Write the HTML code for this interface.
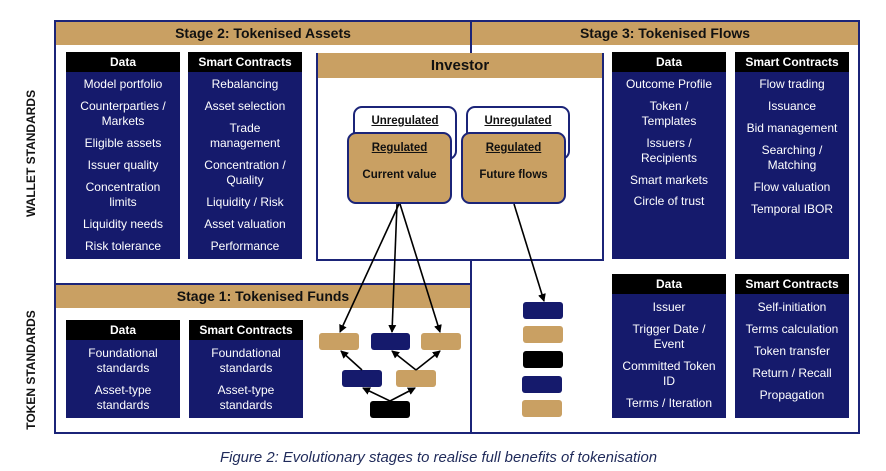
<!DOCTYPE html>
<html><head><meta charset="utf-8"><style>
*{margin:0;padding:0;box-sizing:border-box}
body{width:886px;height:471px;background:#fff;position:relative;overflow:hidden;font-family:"Liberation Sans",sans-serif}
.a{position:absolute}
.nv{background:#151a6c}
.tan{background:#c9a063}
.hd{background:#000;color:#fff;font-weight:bold;font-size:12px;text-align:center;line-height:20px}
.t{position:absolute;left:0;width:100%;text-align:center;color:#fff;font-size:12px;line-height:15px}
.stg{font-weight:bold;font-size:14px;color:#111;text-align:center;line-height:23px}
.line{position:absolute;background:#1b2478}
.rot{position:absolute;font-weight:bold;font-size:12px;color:#111;white-space:nowrap;transform:rotate(-90deg);transform-origin:center}
.rb{position:absolute;border:2px solid #1b2478;border-radius:9px;text-align:center;font-weight:bold;font-size:11.5px;color:#111}
.sb{position:absolute;border-radius:3px}
</style></head><body>

<div class="a" style="left:54px;top:20px;width:806px;height:414px;border:2px solid #1b2478"></div>
<div class="a tan stg" style="left:56px;top:22px;width:414px;height:23px">Stage 2: Tokenised Assets</div>
<div class="a tan stg" style="left:472px;top:22px;width:386px;height:23px">Stage 3: Tokenised Flows</div>
<div class="line" style="left:470px;top:20px;width:2px;height:33px"></div>
<div class="line" style="left:470px;top:260px;width:2px;height:174px"></div>
<div class="line" style="left:54px;top:283px;width:418px;height:2px"></div>
<div class="a tan stg" style="left:56px;top:285px;width:414px;height:23px">Stage 1: Tokenised Funds</div>

<div class="rot" style="left:-29px;top:150px;width:120px;text-align:center">WALLET STANDARDS</div>
<div class="rot" style="left:-29px;top:363px;width:120px;text-align:center">TOKEN STANDARDS</div>

<div class="a nv" style="left:66px;top:52px;width:114px;height:207px">
<div class="hd">Data</div>
<div class="t" style="top:25px">Model portfolio</div>
<div class="t" style="top:47px">Counterparties /<br>Markets</div>
<div class="t" style="top:84px">Eligible assets</div>
<div class="t" style="top:106px">Issuer quality</div>
<div class="t" style="top:128px">Concentration<br>limits</div>
<div class="t" style="top:165px">Liquidity needs</div>
<div class="t" style="top:187px">Risk tolerance</div>
</div>
<div class="a nv" style="left:188px;top:52px;width:114px;height:207px">
<div class="hd">Smart Contracts</div>
<div class="t" style="top:25px">Rebalancing</div>
<div class="t" style="top:47px">Asset selection</div>
<div class="t" style="top:69px">Trade<br>management</div>
<div class="t" style="top:106px">Concentration /<br>Quality</div>
<div class="t" style="top:143px">Liquidity / Risk</div>
<div class="t" style="top:165px">Asset valuation</div>
<div class="t" style="top:187px">Performance</div>
</div>

<div class="a nv" style="left:612px;top:52px;width:114px;height:207px">
<div class="hd">Data</div>
<div class="t" style="top:25px">Outcome Profile</div>
<div class="t" style="top:47px">Token /<br>Templates</div>
<div class="t" style="top:84px">Issuers /<br>Recipients</div>
<div class="t" style="top:121px">Smart markets</div>
<div class="t" style="top:142px">Circle of trust</div>
</div>
<div class="a nv" style="left:735px;top:52px;width:114px;height:207px">
<div class="hd">Smart Contracts</div>
<div class="t" style="top:25px">Flow trading</div>
<div class="t" style="top:47px">Issuance</div>
<div class="t" style="top:69px">Bid management</div>
<div class="t" style="top:91px">Searching /<br>Matching</div>
<div class="t" style="top:128px">Flow valuation</div>
<div class="t" style="top:150px">Temporal IBOR</div>
</div>

<div class="a nv" style="left:612px;top:274px;width:114px;height:144px">
<div class="hd">Data</div>
<div class="t" style="top:26px">Issuer</div>
<div class="t" style="top:48px">Trigger Date /<br>Event</div>
<div class="t" style="top:85px">Committed Token<br>ID</div>
<div class="t" style="top:122px">Terms / Iteration</div>
</div>
<div class="a nv" style="left:735px;top:274px;width:114px;height:144px">
<div class="hd">Smart Contracts</div>
<div class="t" style="top:26px">Self-initiation</div>
<div class="t" style="top:48px">Terms calculation</div>
<div class="t" style="top:70px">Token transfer</div>
<div class="t" style="top:92px">Return / Recall</div>
<div class="t" style="top:114px">Propagation</div>
</div>

<div class="a nv" style="left:66px;top:320px;width:114px;height:98px">
<div class="hd">Data</div>
<div class="t" style="top:26px">Foundational<br>standards</div>
<div class="t" style="top:63px">Asset-type<br>standards</div>
</div>
<div class="a nv" style="left:189px;top:320px;width:114px;height:98px">
<div class="hd">Smart Contracts</div>
<div class="t" style="top:26px">Foundational<br>standards</div>
<div class="t" style="top:63px">Asset-type<br>standards</div>
</div>

<div class="a" style="left:316px;top:53px;width:288px;height:208px;border:2px solid #1b2478;border-top:none"></div>
<div class="a tan stg" style="left:318px;top:53px;width:284px;height:25px;font-size:15px;line-height:25px">Investor</div>

<div class="rb" style="left:353px;top:106px;width:104px;height:54px;background:#fff"><div style="margin-top:7px;text-decoration:underline">Unregulated</div></div>
<div class="rb" style="left:466px;top:106px;width:104px;height:54px;background:#fff"><div style="margin-top:7px;text-decoration:underline">Unregulated</div></div>
<div class="rb" style="left:347px;top:132px;width:105px;height:72px;background:#c9a063"><div style="margin-top:8px;text-decoration:underline">Regulated</div><div style="margin-top:15px">Current value</div></div>
<div class="rb" style="left:461px;top:132px;width:105px;height:72px;background:#c9a063"><div style="margin-top:8px;text-decoration:underline">Regulated</div><div style="margin-top:15px">Future flows</div></div>

<div class="sb tan" style="left:319px;top:333px;width:40px;height:17px"></div>
<div class="sb nv" style="left:371px;top:333px;width:39px;height:17px"></div>
<div class="sb tan" style="left:421px;top:333px;width:40px;height:17px"></div>
<div class="sb nv" style="left:342px;top:370px;width:40px;height:17px"></div>
<div class="sb tan" style="left:396px;top:370px;width:40px;height:17px"></div>
<div class="sb" style="left:370px;top:401px;width:40px;height:17px;background:#000"></div>

<div class="sb nv" style="left:523px;top:302px;width:40px;height:17px"></div>
<div class="sb tan" style="left:523px;top:326px;width:40px;height:17px"></div>
<div class="sb" style="left:523px;top:351px;width:40px;height:17px;background:#000"></div>
<div class="sb nv" style="left:522px;top:376px;width:40px;height:17px"></div>
<div class="sb tan" style="left:522px;top:400px;width:40px;height:17px"></div>

<svg class="a" style="left:0;top:0" width="886" height="471">
<defs><marker id="m" markerWidth="8" markerHeight="8" refX="7" refY="4" orient="auto" markerUnits="userSpaceOnUse"><path d="M0,0 L8,4 L0,8 z" fill="#000"/></marker></defs>
<g stroke="#000" stroke-width="1.6" fill="none" marker-end="url(#m)">
<line x1="399" y1="204" x2="340" y2="332"/>
<line x1="397" y1="204" x2="392" y2="332"/>
<line x1="400" y1="204" x2="440" y2="332"/>
<line x1="514" y1="204" x2="544" y2="301"/>
<line x1="362" y1="370" x2="341" y2="351"/>
<line x1="416" y1="370" x2="392" y2="351"/>
<line x1="416" y1="370" x2="440" y2="351"/>
<line x1="390" y1="401" x2="363" y2="388"/>
<line x1="390" y1="401" x2="415" y2="388"/>
</g>
</svg>

<div class="a" style="left:0;top:450px;width:877px;text-align:center;font-style:italic;font-size:14.9px;color:#1f2a5a">Figure 2: Evolutionary stages to realise full benefits of tokenisation</div>
</body></html>
